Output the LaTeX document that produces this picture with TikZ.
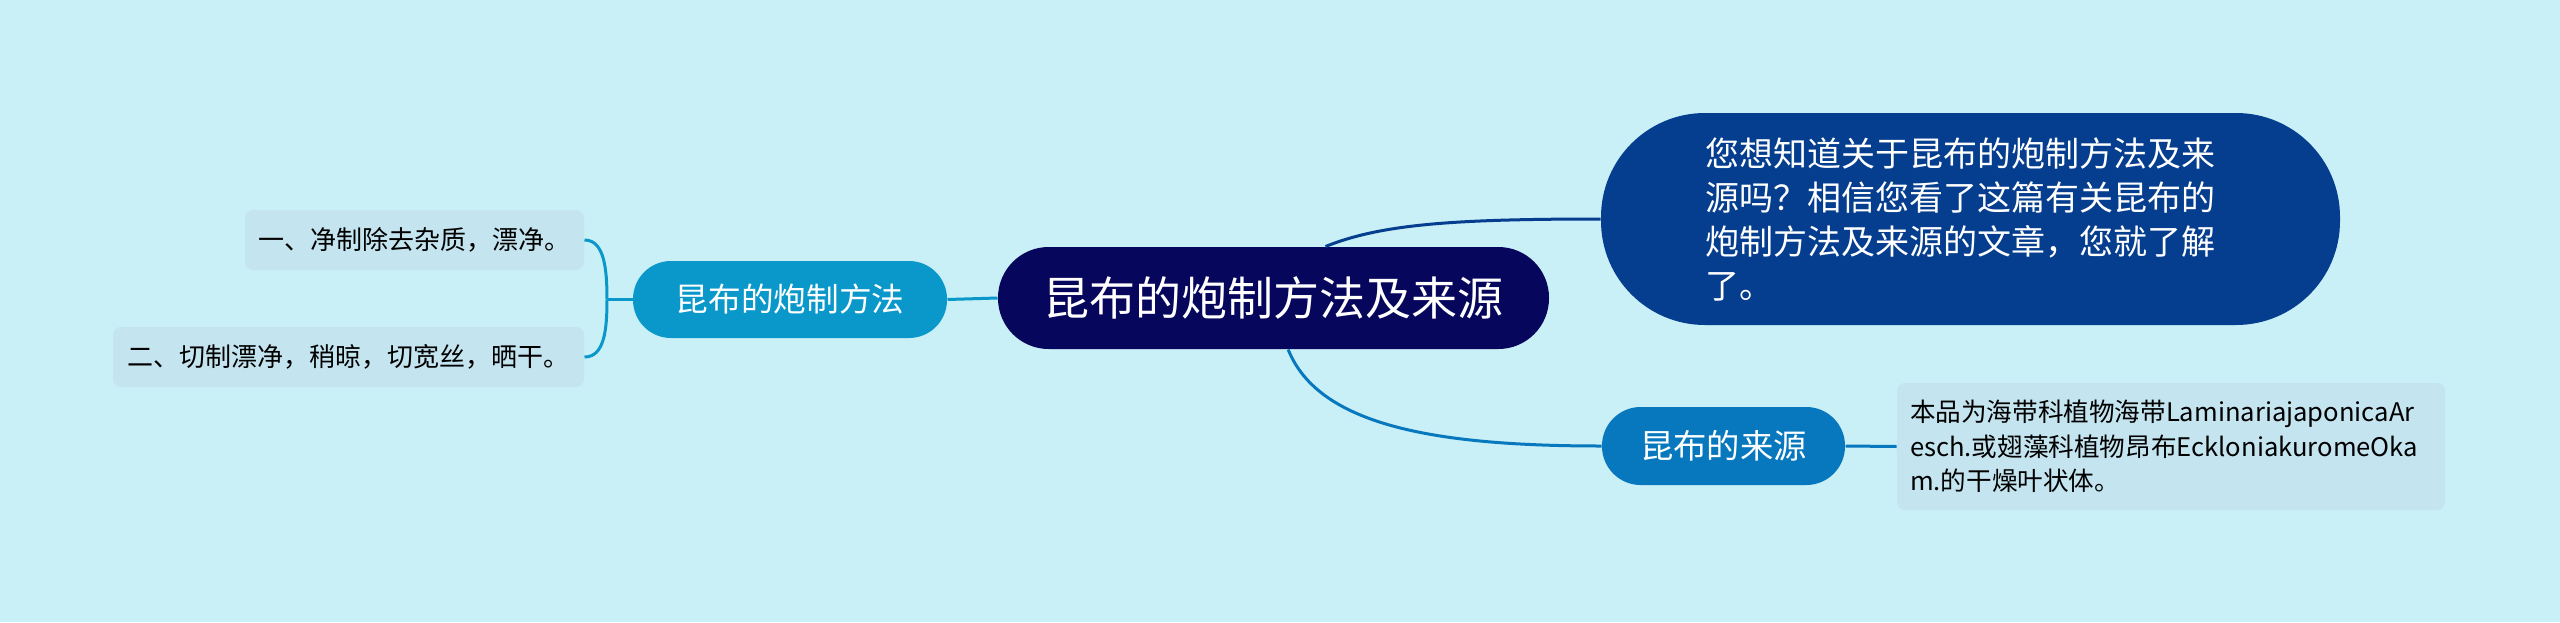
\documentclass[tikz,border=0pt]{standalone}
\usepackage{fontspec}
\newfontfamily\cjkfont{Noto Sans CJK SC}

\definecolor{bgcyan}{HTML}{C9EFF7}
\definecolor{rootnavy}{HTML}{06065C}
\definecolor{methodblue}{HTML}{0A98CA}
\definecolor{infoblue}{HTML}{053E8E}
\definecolor{sourceblue}{HTML}{0878BE}
\definecolor{leafgray}{HTML}{C4E4EF}

\tikzset{every picture/.style={line width=0.75pt}}
\tikzset{
  rootbox/.style={fill=rootnavy, text=white, rounded corners=38pt, inner sep=0pt,
    minimum width=413.25pt, minimum height=76.5pt,
    font=\cjkfont\fontsize{34.5pt}{42pt}\selectfont},
  methodbox/.style={fill=methodblue, text=white, rounded corners=28.5pt, inner sep=0pt,
    minimum width=235.5pt, minimum height=57.75pt,
    font=\cjkfont\fontsize{24.5pt}{30pt}\selectfont},
  sourcebox/.style={fill=sourceblue, text=white, rounded corners=29pt, inner sep=0pt,
    minimum width=182.25pt, minimum height=58.5pt,
    font=\cjkfont\fontsize{25pt}{30pt}\selectfont},
  infobox/.style={fill=infoblue, text=white, rounded corners=78pt, inner sep=0pt,
    minimum width=554.25pt, minimum height=159pt, text width=397pt, align=left,
    font=\cjkfont\fontsize{25.5pt}{33pt}\selectfont},
  leafbox/.style={fill=leafgray, text=black, rounded corners=6pt, inner sep=0pt,
    minimum height=45pt, font=\cjkfont\fontsize{19.5pt}{24pt}\selectfont},
  link/.style={line width=2.25pt},
}

\begin{document}
\begin{tikzpicture}[x=0.75pt,y=0.75pt,yscale=-1,xscale=1]
\useasboundingbox (0,0) rectangle (2560,622);
%Shape: Rectangle (background)
\fill [color=bgcyan] (0,0) rectangle (2560,622);

% Text Node
\node [rootbox] (root) at (1273.5,298) {昆布的炮制方法及来源};
% Text Node
\node [methodbox] (method) at (790,299.5) {昆布的炮制方法};
% Text Node
\node [leafbox, minimum width=254.25pt] (leafa) at (414.5,240) {一、净制除去杂质，漂净。};
% Text Node
\node [leafbox, minimum width=353.25pt] (leafb) at (348.5,357) {二、切制漂净，稍晾，切宽丝，晒干。};
% Text Node
\node [infobox] (info) at (1970.5,219) {您想知道关于昆布的炮制方法及来\\源吗？相信您看了这篇有关昆布的\\炮制方法及来源的文章，您就了解\\了。};
% Text Node
\node [sourcebox] (source) at (1723.5,446) {昆布的来源};
% Text Node
\node [leafbox, minimum width=411pt, minimum height=95.25pt, text width=391.5pt, align=left,
  font=\cjkfont\fontsize{19.2pt}{26pt}\selectfont] (leafc) at (2171,446.5)
  {本品为海带科植物海带LaminariajaponicaAr\\esch.或翅藻科植物昂布EckloniakuromeOka\\m.的干燥叶状体。};

\coordinate (fork) at (607,299.5);

%Straight Lines
\draw [link, color=methodblue] (root.west) -- (method.east);
\draw [link, color=methodblue] (method.west) -- (fork);
%Curve Lines (bracket)
\draw [link, color=methodblue] (leafa.east) .. controls +(20,0) and +(0,-30) .. (fork);
\draw [link, color=methodblue] (leafb.east) .. controls +(20,0) and +(0,30) .. (fork);
%Curve Lines
\draw [link, color=infoblue] ([xshift=39pt]root.north) .. controls +(55,-22) and +(-150,0) .. (info.west);
\draw [link, color=sourceblue] ([xshift=11pt]root.south) .. controls +(30,75) and +(-170,0) .. (source.west);
\draw [link, color=sourceblue] (source.east) -- (leafc.west);

\end{tikzpicture}
\end{document}
